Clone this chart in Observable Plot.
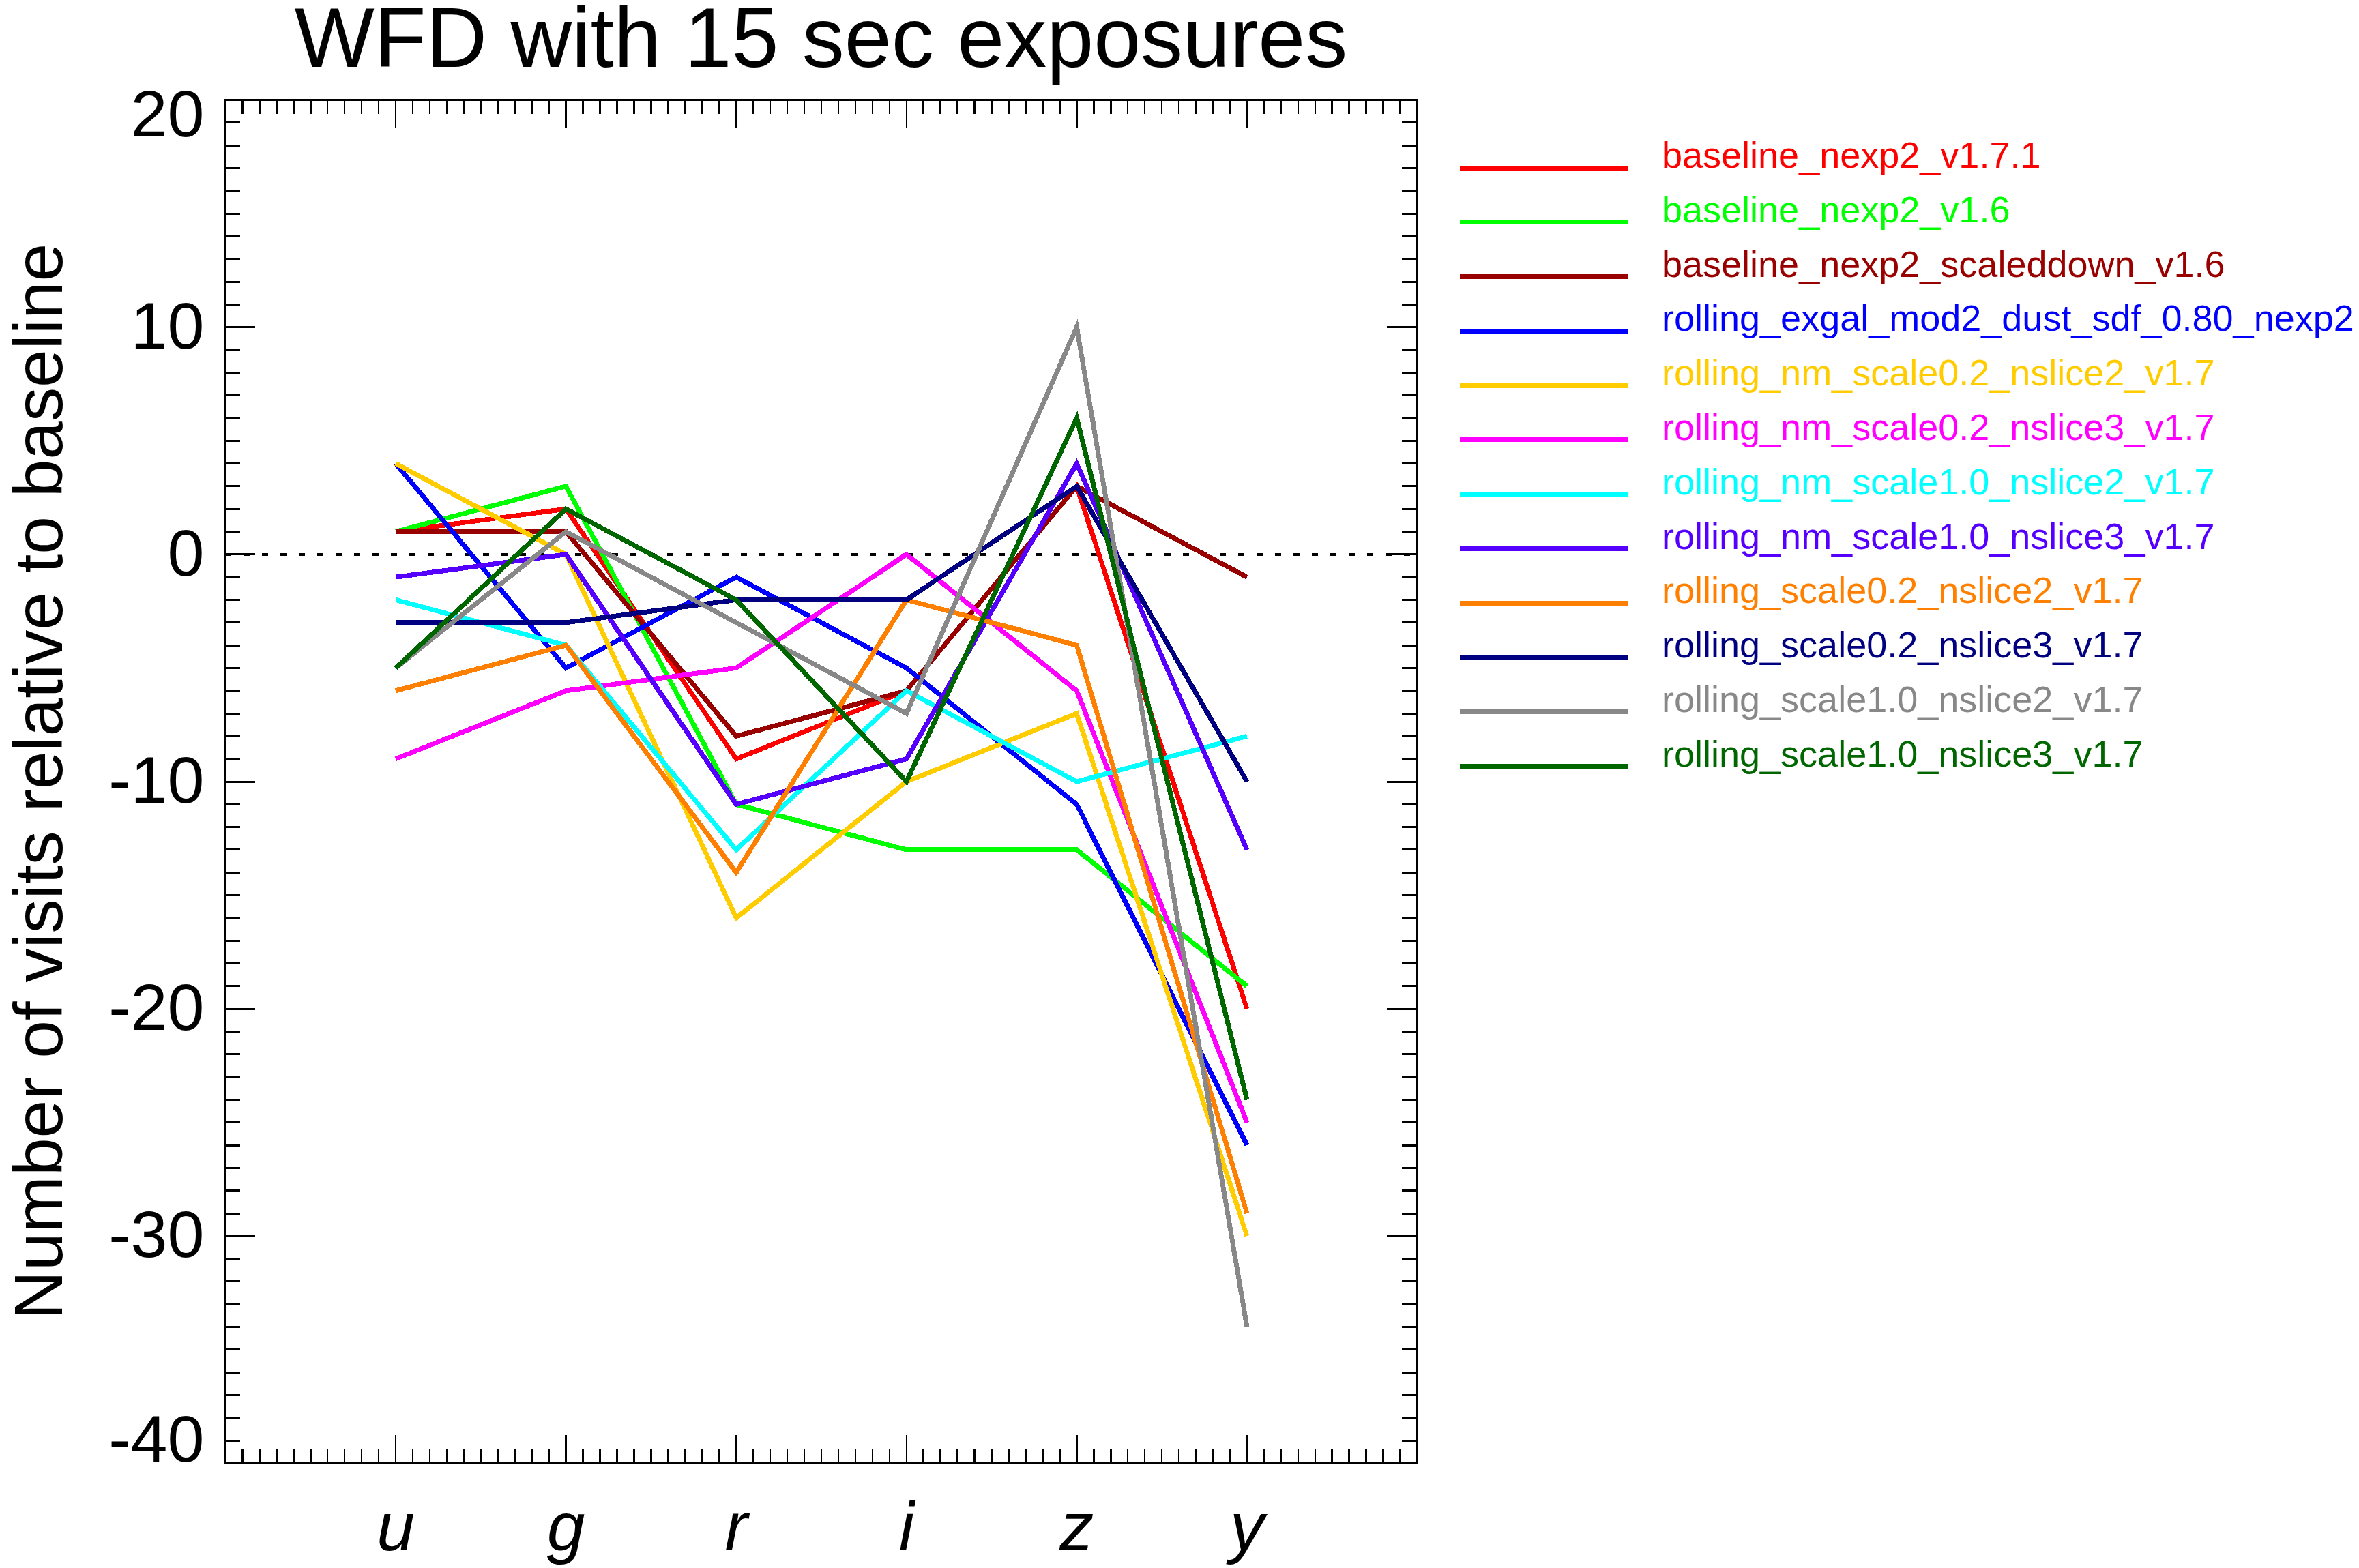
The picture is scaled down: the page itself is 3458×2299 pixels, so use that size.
<!DOCTYPE html>
<html><head><meta charset="utf-8">
<script src="https://cdn.jsdelivr.net/npm/d3@7"></script>
<script src="https://cdn.jsdelivr.net/npm/@observablehq/plot@0.6"></script>
<style>
html,body{margin:0;padding:0;background:#fff;}
#page{position:relative;width:3458px;height:2299px;overflow:hidden;font-family:"Liberation Sans",Arial,Helvetica,sans-serif;background:#fff;}
#title{margin-left:330px;width:1747px;height:120px;padding-top:6px;box-sizing:border-box;line-height:98px;text-align:center;font-size:124px;color:#000;white-space:nowrap;}
#chart svg{display:block;}
#legend{position:absolute;left:2140px;top:188px;}
.row{position:relative;height:79.8px;width:1318px;}
.sw{position:absolute;left:0;top:54.5px;width:246px;height:7px;}
.lb{position:absolute;left:296px;top:0;line-height:80px;font-size:54px;white-space:nowrap;transform:translateY(-1px);}
</style></head><body>
<div id="page">
  <div id="title">WFD with 15 sec exposures</div>
  <div id="chart"></div>
  <div id="legend"></div>
</div>
<script>
// ---- data ----
const filters = ["u", "g", "r", "i", "z", "y"];
const yTickValues = [20, 10, 0, -10, -20, -30, -40];
const yTitle = "Number of visits relative to baseline";

const seriesNames = [
  "baseline_nexp2_v1.7.1",
  "baseline_nexp2_v1.6",
  "baseline_nexp2_scaleddown_v1.6",
  "rolling_exgal_mod2_dust_sdf_0.80_nexp2",
  "rolling_nm_scale0.2_nslice2_v1.7",
  "rolling_nm_scale0.2_nslice3_v1.7",
  "rolling_nm_scale1.0_nslice2_v1.7",
  "rolling_nm_scale1.0_nslice3_v1.7",
  "rolling_scale0.2_nslice2_v1.7",
  "rolling_scale0.2_nslice3_v1.7",
  "rolling_scale1.0_nslice2_v1.7",
  "rolling_scale1.0_nslice3_v1.7"
];
const seriesColors = [
  "#ff0000", "#00ff00", "#990000", "#0000ff", "#ffcc00", "#ff00ff",
  "#00ffff", "#5500ff", "#ff8000", "#000080", "#888888", "#006600"
];

const baseline_nexp2_v171 = [1, 2, -9, -6, 3, -20];
const baseline_nexp2_v16 = [1, 3, -11, -13, -13, -19];
const baseline_nexp2_scaleddown_v16 = [1, 1, -8, -6, 3, -1];
const rolling_exgal_mod2_dust_sdf_080_nexp2 = [4, -5, -1, -5, -11, -26];
const rolling_nm_scale02_nslice2_v17 = [4, 0, -16, -10, -7, -30];
const rolling_nm_scale02_nslice3_v17 = [-9, -6, -5, 0, -6, -25];
const rolling_nm_scale10_nslice2_v17 = [-2, -4, -13, -6, -10, -8];
const rolling_nm_scale10_nslice3_v17 = [-1, 0, -11, -9, 4, -13];
const rolling_scale02_nslice2_v17 = [-6, -4, -14, -2, -4, -29];
const rolling_scale02_nslice3_v17 = [-3, -3, -2, -2, 3, -10];
const rolling_scale10_nslice2_v17 = [-5, 1, -3, -7, 10, -34];
const rolling_scale10_nslice3_v17 = [-5, 2, -2, -10, 6, -24];

const seriesValues = [
  baseline_nexp2_v171, baseline_nexp2_v16, baseline_nexp2_scaleddown_v16,
  rolling_exgal_mod2_dust_sdf_080_nexp2, rolling_nm_scale02_nslice2_v17,
  rolling_nm_scale02_nslice3_v17, rolling_nm_scale10_nslice2_v17,
  rolling_nm_scale10_nslice3_v17, rolling_scale02_nslice2_v17,
  rolling_scale02_nslice3_v17, rolling_scale10_nslice2_v17, rolling_scale10_nslice3_v17
];

// ---- table ----
const rows = [];
seriesNames.forEach((name, s) => {
  seriesValues[s].forEach((v, i) => rows.push({series: name, pos: i + 1, filter: filters[i], value: v}));
});

// ---- layout ----
const W = 3458, H = 2179;
const mL = 330, mR = 1381, mT = 26, mB = 154;
const frameW = W - mL - mR, frameH = H - mT - mB;
const majY = 44, minY = 22, majX = 41, minX = 21;
const font = "'Liberation Sans', Arial, Helvetica, sans-serif";

const minorYTicks = d3.range(-40, 21).filter(v => v % 10 !== 0);
const majorXTicks = d3.range(0, filters.length + 2);
const minorXTicks = d3.range(0, 71).filter(k => k % 10 !== 0).map(k => k / 10);

const chart = Plot.plot({
  width: W, height: H,
  marginLeft: mL, marginRight: mR, marginTop: mT, marginBottom: mB,
  style: {fontFamily: font, background: "white", color: "black", overflow: "visible"},
  x: {domain: [0, filters.length + 1], axis: null},
  y: {domain: [-40, 20], axis: null},
  color: {domain: seriesNames, range: seriesColors},
  marks: [
    Plot.ruleY([0], {stroke: "black", strokeWidth: 3.5, strokeDasharray: "9,18", shapeRendering: "crispEdges"}),
    Plot.line(rows, {x: "pos", y: "value", z: "series", stroke: "series", strokeWidth: 7,
      strokeLinejoin: "miter", strokeLinecap: "butt", strokeMiterlimit: 20, shapeRendering: "crispEdges"}),
    // inward ticks
    Plot.tickY(yTickValues, {y: d => d, stroke: "black", strokeWidth: 3, insetRight: frameW - majY, shapeRendering: "crispEdges"}),
    Plot.tickY(yTickValues, {y: d => d, stroke: "black", strokeWidth: 3, insetLeft: frameW - majY, shapeRendering: "crispEdges"}),
    Plot.tickY(minorYTicks, {y: d => d, stroke: "black", strokeWidth: 3, insetRight: frameW - minY, shapeRendering: "crispEdges"}),
    Plot.tickY(minorYTicks, {y: d => d, stroke: "black", strokeWidth: 3, insetLeft: frameW - minY, shapeRendering: "crispEdges"}),
    Plot.tickX(majorXTicks, {x: d => d, stroke: "black", strokeWidth: 2.5, insetTop: frameH - majX, shapeRendering: "crispEdges"}),
    Plot.tickX(majorXTicks, {x: d => d, stroke: "black", strokeWidth: 2.5, insetBottom: frameH - majX, shapeRendering: "crispEdges"}),
    Plot.tickX(minorXTicks, {x: d => d, stroke: "black", strokeWidth: 2.5, insetTop: frameH - minX, shapeRendering: "crispEdges"}),
    Plot.tickX(minorXTicks, {x: d => d, stroke: "black", strokeWidth: 2.5, insetBottom: frameH - minX, shapeRendering: "crispEdges"}),
    Plot.frame({stroke: "black", strokeWidth: 3.5, shapeRendering: "crispEdges"}),
    // y tick labels
    Plot.text(yTickValues.filter(v => v !== 20 && v !== -40), {y: d => d, text: d => String(d),
      frameAnchor: "left", textAnchor: "end", lineAnchor: "middle", dx: -31, fontSize: 97, fill: "black"}),
    Plot.text([20], {y: d => d, text: d => String(d),
      frameAnchor: "left", textAnchor: "end", lineAnchor: "middle", dx: -31, dy: 22, fontSize: 97, fill: "black"}),
    Plot.text([-40], {y: d => d, text: d => String(d),
      frameAnchor: "left", textAnchor: "end", lineAnchor: "middle", dx: -31, dy: -34, fontSize: 97, fill: "black"}),
    // x tick labels
    Plot.text(filters, {x: (d, i) => i + 1, text: d => d, frameAnchor: "bottom", lineAnchor: "bottom",
      dy: 127, fontSize: 100, fontStyle: "italic", fill: "black"}),
    // y title
    Plot.text([yTitle], {text: d => d, frameAnchor: "left", rotate: -90, lineAnchor: "bottom",
      textAnchor: "middle", dx: -240, fontSize: 100, fill: "black"})
  ]
});
document.getElementById("chart").appendChild(chart);

// ---- legend ----
const legend = document.getElementById("legend");
seriesNames.forEach((name, i) => {
  const row = document.createElement("div");
  row.className = "row";
  const sw = document.createElement("div");
  sw.className = "sw";
  sw.style.background = seriesColors[i];
  const lb = document.createElement("div");
  lb.className = "lb";
  lb.style.color = seriesColors[i];
  lb.textContent = name;
  row.appendChild(sw);
  row.appendChild(lb);
  legend.appendChild(row);
});
</script>
</body></html>
